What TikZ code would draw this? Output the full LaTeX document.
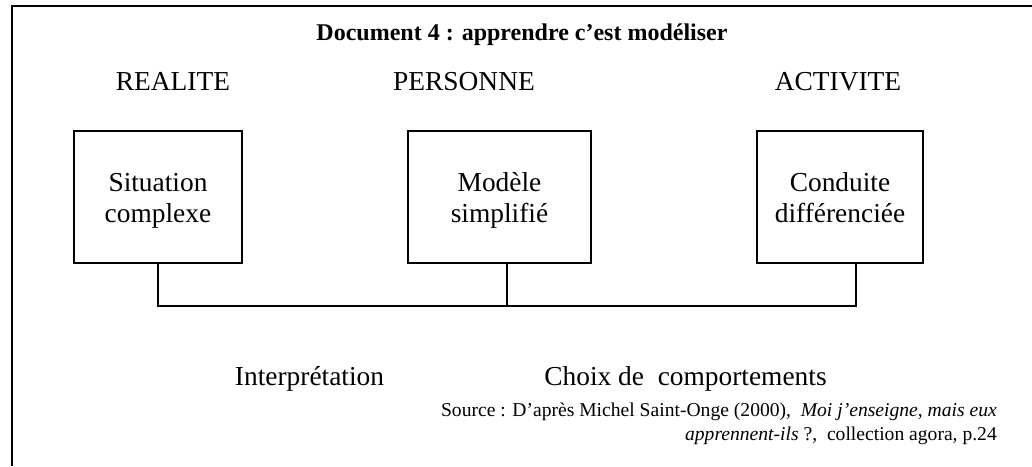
\documentclass[tikz,border=0pt]{standalone}
\usepackage{fontspec}
\setmainfont{Liberation Serif}
\tikzset{
  frameline/.style={line width=2pt},
  modelbox/.style={draw, line width=2pt, minimum height=132pt, inner sep=0pt},
  boxtext/.style={inner sep=0pt, anchor=base, font=\fontsize{27.4}{31}\selectfont},
  bigtext/.style={inner sep=0pt, anchor=base, font=\fontsize{27.4}{31}\selectfont},
  srctext/.style={inner sep=0pt, anchor=base east, font=\fontsize{19.6}{23}\selectfont},
  wire/.style={line width=2pt},
}
\begin{document}
\begin{tikzpicture}[x=1pt,y=-1pt]
\useasboundingbox (0,0) rectangle (1032,466);
% open frame: top and left sides only
\draw[frameline] (12,466) -- (12,6) -- (1032,6);

\node[inner sep=0pt, anchor=base, font=\fontsize{24}{28}\selectfont\bfseries] (title) at (522,40)
  {Document 4 : apprendre c’est modéliser};

\node[bigtext] (realite) at (173,90) {REALITE};
\node[bigtext] (personne) at (464,90) {PERSONNE};
\node[bigtext] (activite) at (838,90) {ACTIVITE};

% the three boxes
\node[modelbox, minimum width=168pt] (situation) at (158,197) {};
\node[modelbox, minimum width=183pt] (modele) at (499.5,197) {};
\node[modelbox, minimum width=166pt] (conduite) at (840,197) {};

\node[boxtext] (sit1) at (158,191) {Situation};
\node[boxtext] (sit2) at (158,222) {complexe};
\node[boxtext] (mod1) at (499.5,191) {Modèle};
\node[boxtext] (mod2) at (499.5,222) {simplifié};
\node[boxtext] (con1) at (840,191) {Conduite};
\node[boxtext] (con2) at (840,222) {différenciée};

% junction line under the three boxes
\coordinate (jl) at (158,306);
\coordinate (jr) at (856,306);
\coordinate (mtop) at (507,263);
\coordinate (rtop) at (856,263);
\draw[wire] (situation.south) -- (jl) -- (jr) -- (rtop);
\draw[wire] (mtop) -- (mtop |- jl);

\node[bigtext] (interp) at (309.5,385) {Interprétation};
\node[bigtext] (choix) at (685.5,385) {Choix de\ \ comportements};

\node[srctext] (src1) at (997,416)
  {Source : D’après Michel Saint-Onge (2000),\ \ \textit{Moi j’enseigne, mais eux}};
\node[srctext] (src2) at (997,440)
  {\textit{apprennent-ils} ?,\ \ collection agora, p.24};
\end{tikzpicture}
\end{document}
